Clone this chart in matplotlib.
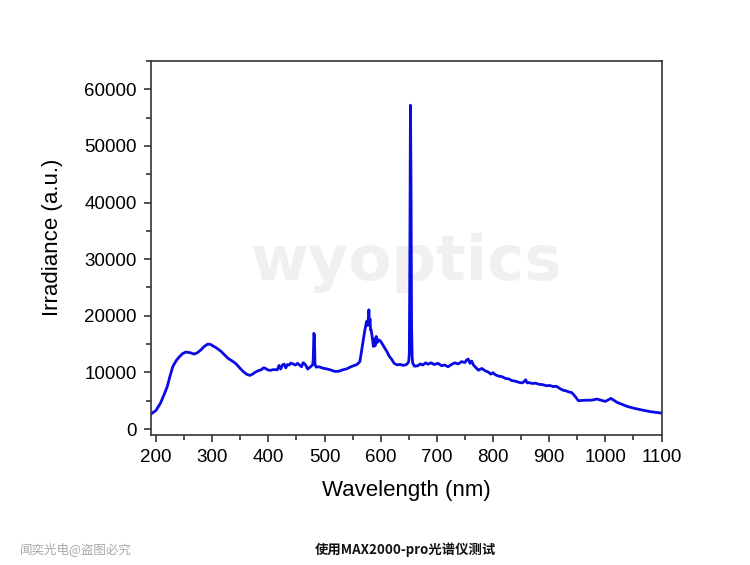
import matplotlib
matplotlib.use("Agg")
import matplotlib.pyplot as plt
from matplotlib.ticker import MultipleLocator

# spectrum (wavelength in nm, irradiance in a.u.)
wavelength = [191.6, 200, 208, 214, 220, 225, 230, 236, 241, 247, 253, 260, 268, 274, 280,
              286, 292, 297, 301, 308, 316, 322, 328, 336, 343, 349, 355, 361, 367, 372,
              376, 382, 388, 391, 394, 398, 403, 409, 416, 419, 422, 425, 428, 431, 434,
              437, 440, 444, 448, 452, 455, 459, 462, 464, 467, 470, 474, 479, 480, 481,
              482, 483, 485, 490, 497, 505, 512, 518, 525, 533, 540, 547, 552, 557, 560,
              563, 566, 569, 572, 575, 577, 578, 579, 580, 581, 582, 583, 585, 587, 589,
              590, 592, 594, 596, 599, 602, 606, 611, 615, 620, 624, 629, 635, 640, 645,
              648, 650, 651, 652, 653, 654, 655, 656, 657, 660, 666, 671, 675, 680, 684,
              690, 695, 702, 708, 714, 720, 726, 732, 738, 744, 750, 753, 756, 759, 762,
              765, 768, 771, 774, 780, 786, 791, 796, 800, 804, 810, 816, 822, 828, 834,
              840, 846, 852, 855, 858, 861, 864, 870, 876, 882, 888, 895, 901, 907, 913,
              919, 925, 930, 935, 940, 946, 952, 958, 967, 976, 985, 992, 1000, 1005, 1010,
              1015, 1021, 1030, 1039, 1050, 1063, 1072, 1081, 1090, 1100]
irradiance = [2700, 3300, 4590, 6000, 7500, 9400, 11060, 12100, 12700, 13300, 13600, 13500, 13240, 13500, 14000,
              14600, 15000, 14950, 14700, 14300, 13700, 13100, 12500, 12000, 11470, 10800, 10180, 9700, 9470, 9700,
              10000, 10300, 10500, 10800, 10760, 10500, 10350, 10500, 10470, 11240, 10600, 11300, 11470, 10800, 11400,
              11300, 11650, 11500, 11300, 11600, 11350, 11000, 11700, 11590, 11200, 10590, 10900, 11350, 12500, 16900,
              16600, 11500, 10940, 11000, 10760, 10600, 10400, 10180, 10200, 10470, 10650, 11000, 11200, 11350, 11600,
              11940, 13800, 15760, 17600, 19000, 18300, 19700, 21060, 18600, 19400, 17500, 17530, 16200, 14590, 15900,
              14700, 16350, 15300, 15760, 15600, 15180, 14500, 13700, 12900, 12240, 11600, 11350, 11400, 11250, 11350,
              11600, 11940, 13500, 32000, 57200, 44000, 18000, 12800, 11650, 11100, 11180, 11500, 11300, 11700, 11450,
              11700, 11400, 11600, 11200, 11300, 11000, 11400, 11700, 11500, 11900, 11750, 12200, 12350, 11600, 12000,
              11350, 11000, 10700, 10400, 10700, 10290, 10100, 9700, 9950, 9590, 9350, 9250, 8950, 8850, 8550,
              8450, 8250, 8150, 8350, 8700, 8150, 8200, 8050, 8100, 7900, 7850, 7650, 7700, 7500, 7550,
              7150, 6850, 6750, 6550, 6450, 5800, 5000, 5050, 5100, 5100, 5300, 5100, 4880, 5150, 5410,
              5100, 4710, 4350, 4000, 3700, 3410, 3230, 3060, 2940, 2820]

x_major = list(range(200, 1101, 100))
y_major = list(range(0, 60001, 10000))

plt.rcParams['font.family'] = ['Liberation Sans', 'DejaVu Sans']

fig = plt.figure(figsize=(7.5, 5.65), dpi=100)
ax = fig.add_axes([0.201, 0.230, 0.681, 0.662])

# watermark
ax.text(0.5, 0.46, "wyoptics", transform=ax.transAxes, ha='center', va='center',
        fontsize=45, fontweight='heavy', color='#f0f0f0', family='DejaVu Sans', zorder=0)

ax.plot(wavelength, irradiance, color='#0a0ae6', linewidth=2.0, zorder=2)

ax.set_xlim(190.6, 1100)
ax.set_ylim(-1060, 65000)
ax.set_xticks(x_major)
ax.set_yticks(y_major)
ax.xaxis.set_minor_locator(MultipleLocator(50))
ax.yaxis.set_minor_locator(MultipleLocator(5000))
ax.tick_params(which='major', length=5, width=1.1, labelsize=13.5, color='#222222', pad=5)
ax.tick_params(which='minor', length=3.5, width=1.1, color='#222222')
for s in ax.spines.values():
    s.set_color('#333333')
    s.set_linewidth(1.2)

ax.set_xlabel("Wavelength (nm)", fontsize=16, labelpad=10)
ax.set_ylabel("Irradiance (a.u.)", fontsize=16)
ax.yaxis.set_label_coords(-0.172, 0.53)

# footer texts
fig.text(0.027, 0.028, "闻奕光电@盗图必究", fontsize=9, color='#a8a8a8',
         family=['Noto Sans CJK SC', 'DejaVu Sans'], va='center', ha='left')
fig.text(0.54, 0.028, "使用MAX2000-pro光谱仪测试", fontsize=9.6, fontweight='bold', color='#111111',
         family=['Noto Sans CJK SC', 'DejaVu Sans'], va='center', ha='center')

fig.savefig("out.png", dpi=100)
